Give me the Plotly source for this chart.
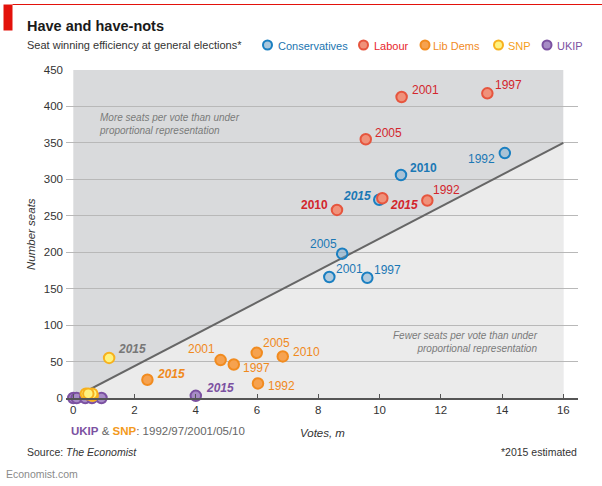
import plotly.graph_objects as go

# ---------------- data ----------------
parties = ["Conservatives", "Labour", "Lib Dems", "SNP", "UKIP"]

con_years = ["1992", "1997", "2001", "2005", "2010", "2015"]
con_votes = [14.09, 9.60, 8.36, 8.78, 10.70, 9.99]
con_seats = [336, 165, 166, 198, 306, 272]

lab_years = ["1992", "1997", "2001", "2005", "2010", "2015"]
lab_votes = [11.56, 13.52, 10.72, 9.55, 8.61, 10.09]
lab_seats = [271, 418, 413, 355, 258, 274]

ld_years = ["1992", "1997", "2001", "2005", "2010", "2015"]
ld_votes = [6.03, 5.24, 4.81, 5.99, 6.84, 2.42]
ld_seats = [20, 46, 52, 62, 57, 25]

snp_years = ["1992", "1997", "2001", "2005", "2010", "2015"]
snp_votes = [0.63, 0.62, 0.46, 0.41, 0.49, 1.17]
snp_seats = [3, 6, 5, 6, 6, 55]

ukip_years = ["1992", "1997", "2001", "2005", "2010", "2015"]
ukip_votes = [0.00, 0.11, 0.39, 0.61, 0.92, 4.00]
ukip_seats = [0, 0, 0, 0, 0, 3]

pr_votes = [0, 16]      # proportional-representation line
pr_seats = [0, 350]

x_ticks = [0, 2, 4, 6, 8, 10, 12, 14, 16]
y_ticks = [0, 50, 100, 150, 200, 250, 300, 350, 400, 450]

# ---------------- styles ----------------
FONT = "Liberation Sans, Arial, sans-serif"

style = {
    "Conservatives": dict(fill="rgba(110,165,205,0.45)", line="#1a7fc1", text="#1b78b5"),
    "Labour": dict(fill="#f0917a", line="#e6553e", text="#d3262d"),
    "Lib Dems": dict(fill="#f6a24f", line="#f18b1f", text="#f0891c"),
    "SNP": dict(fill="#fff27e", line="#f7b11d", text="#f0a01c"),
    "UKIP": dict(fill="#a78cc6", line="#7b51a1", text="#7b51a1"),
}

# label placement: (xanchor, xshift, yshift, weight)  'b' bold, 'bi' bold italic
lab_pos = {
    ("Conservatives", "1992"): ("right", -8, -6, ""),
    ("Conservatives", "2010"): ("left", 7, 7, "b"),
    ("Conservatives", "2015"): ("right", -6, 4, "bi"),
    ("Conservatives", "2005"): ("right", -3, 10, ""),
    ("Conservatives", "2001"): ("left", 5, 8, ""),
    ("Conservatives", "1997"): ("left", 5, 8, ""),
    ("Labour", "1997"): ("left", 6, 8, ""),
    ("Labour", "2001"): ("left", 8, 7, ""),
    ("Labour", "2005"): ("left", 7, 6, ""),
    ("Labour", "1992"): ("left", 4, 10, ""),
    ("Labour", "2015"): ("left", 6, -7, "bi"),
    ("Labour", "2010"): ("right", -7, 5, "b"),
    ("Lib Dems", "2001"): ("right", -4, 11, ""),
    ("Lib Dems", "1997"): ("left", 7, -4, ""),
    ("Lib Dems", "2005"): ("left", 4, 10, ""),
    ("Lib Dems", "2010"): ("left", 8, 4, ""),
    ("Lib Dems", "1992"): ("left", 8, -3, ""),
    ("Lib Dems", "2015"): ("left", 8, 6, "bi"),
    ("SNP", "2015"): ("left", 7, 9, "bi"),
    ("UKIP", "2015"): ("left", 8, 8, "bi"),
}

# layout geometry (pixels)
W, H = 602, 486
L, R, T, B = 66, 24, 70, 88
PW, PH = W - L - R, H - T - B
PX_PER_UNIT = 30.625
x_min = -7.3 / PX_PER_UNIT
x_max = x_min + PW / PX_PER_UNIT


def px(xp):
    return (xp - L) / PW


def py(yp):
    return (H - B - yp) / PH


fig = go.Figure()

series = [
    ("UKIP", ukip_years, ukip_votes, ukip_seats),
    ("SNP", snp_years, snp_votes, snp_seats),
    ("Lib Dems", ld_years, ld_votes, ld_seats),
    ("Conservatives", con_years, con_votes, con_seats),
    ("Labour", lab_years, lab_votes, lab_seats),
]

# PR line
fig.add_trace(go.Scatter(x=pr_votes, y=pr_seats, mode="lines",
                         line=dict(color="#666666", width=2),
                         hoverinfo="skip", showlegend=False))

for name, yrs, xs, ys in series:
    s = style[name]
    fig.add_trace(go.Scatter(
        x=xs, y=ys, mode="markers", name=name, text=yrs,
        marker=dict(size=10.5, color=s["fill"], line=dict(color=s["line"], width=2)),
        cliponaxis=False, showlegend=False))

annotations = []
for name, yrs, xs, ys in series:
    s = style[name]
    for yr, xv, yv in zip(yrs, xs, ys):
        key = (name, yr)
        if key not in lab_pos:
            continue
        xa, xsft, ysft, wt = lab_pos[key]
        txt = yr
        if "i" in wt:
            txt = "<i>" + txt + "</i>"
        if "b" in wt:
            txt = "<b>" + txt + "</b>"
        col = "#777777" if name == "SNP" else s["text"]
        annotations.append(dict(x=xv, y=yv, xref="x", yref="y", text=txt,
                                showarrow=False, xanchor=xa, yanchor="middle",
                                xshift=xsft, yshift=ysft,
                                font=dict(family=FONT, size=12, color=col)))

# region notes
annotations.append(dict(x=px(97), y=py(124), xref="paper", yref="paper",
                        text="<i>More seats per vote than under<br>proportional representation</i>",
                        showarrow=False, xanchor="left", yanchor="middle", align="left",
                        font=dict(family=FONT, size=10, color="#7a7a7a")))
annotations.append(dict(x=px(540), y=py(342), xref="paper", yref="paper",
                        text="<i>Fewer seats per vote than under<br>proportional representation</i>",
                        showarrow=False, xanchor="right", yanchor="middle", align="right",
                        font=dict(family=FONT, size=10, color="#7a7a7a")))

# titles
annotations.append(dict(x=px(25), y=py(26), xref="paper", yref="paper",
                        text="<b>Have and have-nots</b>", showarrow=False,
                        xanchor="left", yanchor="middle",
                        font=dict(family=FONT, size=14.5, color="#1a1a1a")))
annotations.append(dict(x=px(25), y=py(45), xref="paper", yref="paper",
                        text="Seat winning efficiency at general elections*", showarrow=False,
                        xanchor="left", yanchor="middle",
                        font=dict(family=FONT, size=11, color="#333333")))

# legend
legend_pos = {"Conservatives": (267.5, 276), "Labour": (363.5, 371.5),
              "Lib Dems": (425, 431), "SNP": (498.5, 506), "UKIP": (547, 555)}
shapes = []
for name in parties:
    cx, tx = legend_pos[name]
    s = style[name]
    fill = "#a9c7dc" if name == "Conservatives" else s["fill"]
    shapes.append(dict(type="circle", xref="paper", yref="paper",
                       xsizemode="pixel", ysizemode="pixel",
                       xanchor=px(cx), yanchor=py(45),
                       x0=-4.5, x1=4.5, y0=-4.5, y1=4.5,
                       fillcolor=fill, line=dict(color=s["line"], width=2)))
    tcol = "#e8262c" if name == "Labour" else (s["line"] if name != "Conservatives" else "#1a75b0")
    if name == "SNP":
        tcol = "#f5a01a"
    annotations.append(dict(x=px(tx), y=py(45.5), xref="paper", yref="paper",
                            text=name, showarrow=False, xanchor="left", yanchor="middle",
                            font=dict(family=FONT, size=11, color=tcol)))

# axis titles
annotations.append(dict(x=px(31), y=py(234), xref="paper", yref="paper",
                        text="<i>Number seats</i>", showarrow=False, textangle=-90,
                        xanchor="center", yanchor="middle",
                        font=dict(family=FONT, size=11.5, color="#333333")))
annotations.append(dict(x=px(322), y=py(433), xref="paper", yref="paper",
                        text="<i>Votes, m</i>", showarrow=False,
                        xanchor="center", yanchor="middle",
                        font=dict(family=FONT, size=11.5, color="#333333")))

# footnotes
annotations.append(dict(x=px(69), y=py(431), xref="paper", yref="paper",
                        text="<b><span style='color:#7b51a1'>UKIP</span></b> &amp; "
                             "<b><span style='color:#f39a1c'>SNP</span></b>: 1992/97/2001/05/10",
                        showarrow=False, xanchor="left", yanchor="middle",
                        font=dict(family=FONT, size=11.5, color="#666666")))
annotations.append(dict(x=px(25), y=py(452), xref="paper", yref="paper",
                        text="Source: <i>The Economist</i>", showarrow=False,
                        xanchor="left", yanchor="middle",
                        font=dict(family=FONT, size=10.5, color="#333333")))
annotations.append(dict(x=px(579), y=py(452), xref="paper", yref="paper",
                        text="*2015 estimated", showarrow=False,
                        xanchor="right", yanchor="middle",
                        font=dict(family=FONT, size=10.5, color="#333333")))
annotations.append(dict(x=px(4), y=py(474), xref="paper", yref="paper",
                        text="Economist.com", showarrow=False,
                        xanchor="left", yanchor="middle",
                        font=dict(family=FONT, size=10.5, color="#8a8a8a")))

# background regions
shapes.insert(0, dict(type="rect", xref="x", yref="y", x0=x_ticks[0], x1=x_ticks[-1],
                      y0=y_ticks[0], y1=y_ticks[-1], fillcolor="#d9dadc",
                      line=dict(width=0), layer="below"))
shapes.insert(1, dict(type="path", xref="x", yref="y",
                      path=f"M {pr_votes[0]},{pr_seats[0]} L {pr_votes[1]},{pr_seats[1]} "
                           f"L {pr_votes[1]},{y_ticks[0]} Z",
                      fillcolor="#ebebeb", line=dict(width=0), layer="below"))
# red header marks
shapes.append(dict(type="rect", xref="paper", yref="paper",
                   x0=px(3.5), x1=px(12.5), y0=py(30.5), y1=py(4.5),
                   fillcolor="#e3120b", line=dict(width=0)))
shapes.append(dict(type="line", xref="paper", yref="paper",
                   x0=px(12.5), x1=px(602), y0=py(4.5), y1=py(4.5),
                   line=dict(color="#e3120b", width=1)))

fig.update_layout(
    width=W, height=H, margin=dict(l=L, r=R, t=T, b=B),
    paper_bgcolor="white", plot_bgcolor="white",
    shapes=shapes, annotations=annotations, showlegend=False,
    xaxis=dict(range=[x_min, x_max], tickvals=x_ticks, ticks="inside", ticklen=4,
               tickcolor="#555555", tickwidth=1, showgrid=False, zeroline=False,
               showline=True, linecolor="#555555", linewidth=1.5,
               tickfont=dict(family=FONT, size=11.5, color="#333333")),
    yaxis=dict(range=[y_ticks[0], y_ticks[-1]], tickvals=y_ticks, showgrid=True,
               gridcolor="#b8b8b8", gridwidth=1.2, zeroline=False, ticks="",
               ticklabelstandoff=2,
               tickfont=dict(family=FONT, size=11.5, color="#333333")),
)

fig.write_html("out.html")
